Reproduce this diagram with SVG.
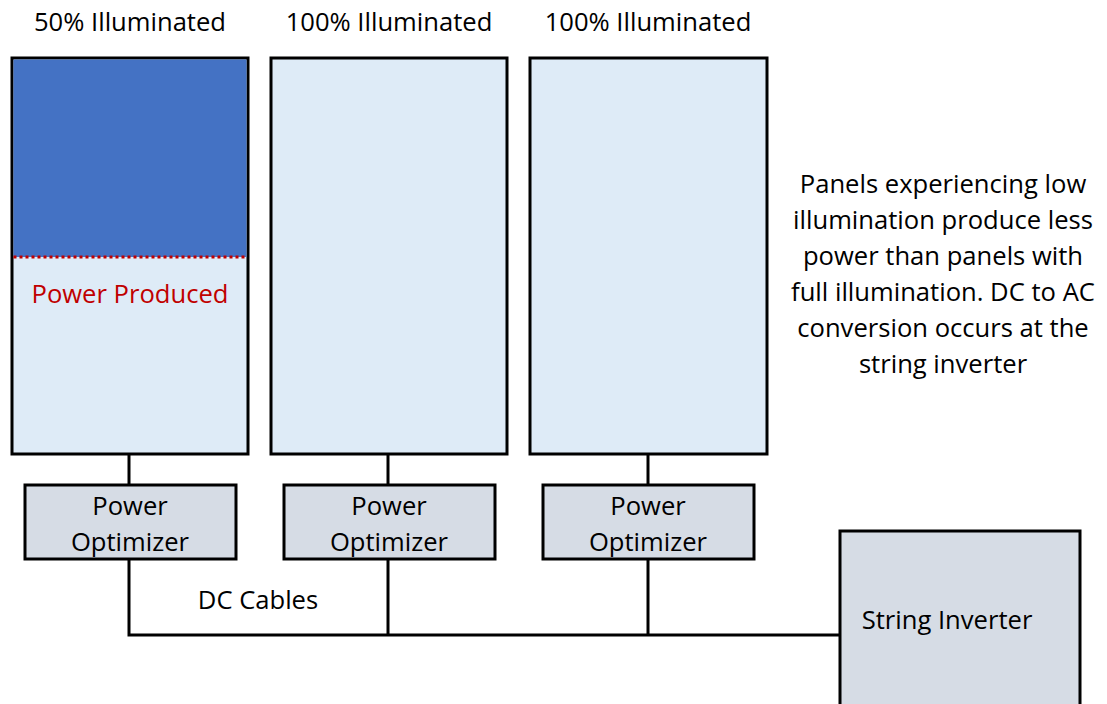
<svg xmlns="http://www.w3.org/2000/svg" width="1107" height="704" viewBox="0 0 1107 704">
<style>
text{font-family:"Open Sans","Noto Sans","Liberation Sans",sans-serif;font-size:25.6px;fill:#000;text-anchor:middle}
.panel{fill:#DEEBF7;stroke:#000;stroke-width:3}
.opt{fill:#D6DCE5;stroke:#000;stroke-width:3}
.wire{fill:none;stroke:#000;stroke-width:3}
.red{fill:#C00000}
</style>
<rect width="1107" height="704" fill="#fff"/>
<g id="connectors">
<line class="wire" x1="129" y1="454" x2="129" y2="485"/>
<line class="wire" x1="388" y1="454" x2="388" y2="485"/>
<line class="wire" x1="648" y1="454" x2="648" y2="485"/>
<polyline class="wire" points="129,559 129,635 840,635"/>
<line class="wire" x1="388" y1="559" x2="388" y2="635"/>
<line class="wire" x1="648" y1="559" x2="648" y2="635"/>
<text x="258" y="609">DC Cables</text>
</g>
<g id="panel1">
<text x="130" y="31">50% Illuminated</text>
<rect class="panel" x="12" y="58" width="236" height="396"/>
<rect x="13.5" y="59.5" width="233" height="197.5" fill="#4472C4"/>
<line x1="13.5" y1="257" x2="246.5" y2="257" stroke="#C00000" stroke-width="3" stroke-dasharray="3,3"/>
<text class="red" x="130" y="303">Power Produced</text>
</g>
<g id="panel2">
<text x="389" y="31">100% Illuminated</text>
<rect class="panel" x="271" y="58" width="236" height="396"/>
</g>
<g id="panel3">
<text x="648" y="31">100% Illuminated</text>
<rect class="panel" x="530" y="58" width="237" height="396"/>
</g>
<g id="optimizer1">
<rect class="opt" x="25" y="485" width="211" height="74"/>
<text x="130" y="515">Power</text>
<text x="130" y="551">Optimizer</text>
</g>
<g id="optimizer2">
<rect class="opt" x="284" y="485" width="211" height="74"/>
<text x="389" y="515">Power</text>
<text x="389" y="551">Optimizer</text>
</g>
<g id="optimizer3">
<rect class="opt" x="543" y="485" width="211" height="74"/>
<text x="648" y="515">Power</text>
<text x="648" y="551">Optimizer</text>
</g>
<g id="inverter">
<rect class="opt" x="840" y="531" width="240" height="180"/>
<text x="947" y="629">String Inverter</text>
</g>
<g id="note">
<text x="943" y="193">Panels experiencing low</text>
<text x="943" y="229">illumination produce less</text>
<text x="943" y="265">power than panels with</text>
<text x="943" y="301">full illumination. DC to AC</text>
<text x="943" y="337">conversion occurs at the</text>
<text x="943" y="373">string inverter</text>
</g>
</svg>
